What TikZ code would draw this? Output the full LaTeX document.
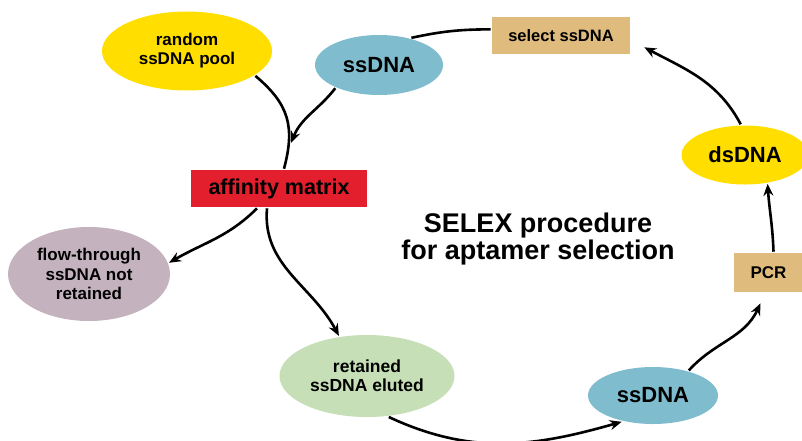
\documentclass[tikz,border=0pt]{standalone}
\usepackage{fontspec}
\setmainfont{Liberation Sans}
\usepackage{tikz}
\usetikzlibrary{shapes,arrows.meta}
\definecolor{poolyellow}{HTML}{FFDE00}
\definecolor{dnablue}{HTML}{7FBDCE}
\definecolor{boxtan}{HTML}{DFBC7E}
\definecolor{matrixred}{HTML}{E31E2D}
\definecolor{flowmauve}{HTML}{C4B2BF}
\definecolor{elutegreen}{HTML}{C6DFB7}
\tikzset{ell/.style={ellipse,inner sep=0pt,align=center,font=\bfseries\fontsize{17}{19}\selectfont}}
\tikzset{box/.style={rectangle,inner sep=0pt,align=center,font=\bfseries\fontsize{17}{19}\selectfont}}

\begin{document}
\begin{tikzpicture}[x=1pt,y=-1pt,>={Stealth[length=12pt,width=10pt,inset=4pt]},line width=2.6pt]
        \useasboundingbox (0,0) rectangle (802,440);

        \node[ell,fill=poolyellow,minimum width=170pt,minimum height=79pt] (pool) at (187,51) {random\\ssDNA pool};
        \node[ell,fill=dnablue,minimum width=128pt,minimum height=60pt,font=\bfseries\fontsize{22}{24}\selectfont] (topss) at (379,65) {ssDNA};
        \node[box,fill=boxtan,minimum width=138pt,minimum height=37pt,font=\bfseries\fontsize{16.5}{18}\selectfont] (select) at (561,35.5) {select ssDNA};
        \node[ell,fill=poolyellow,minimum width=127pt,minimum height=59pt,font=\bfseries\fontsize{22}{24}\selectfont] (ds) at (745,155) {dsDNA};
        \node[box,fill=boxtan,minimum width=69pt,minimum height=39pt] (pcr) at (768.5,272.5) {PCR};
        \node[box,fill=matrixred,minimum width=176pt,minimum height=37pt,font=\bfseries\fontsize{21.5}{23}\selectfont] (matrix) at (279,188.5) {affinity matrix};
        \node[ell,fill=flowmauve,minimum width=162pt,minimum height=94pt,font=\bfseries\fontsize{17}{19.5}\selectfont] (flow) at (89,274) {flow-through\\ssDNA not\\retained};
        \node[ell,fill=elutegreen,minimum width=175pt,minimum height=82pt,font=\bfseries\fontsize{17.5}{19}\selectfont] (elute) at (367,376) {retained\\ssDNA eluted};
        \node[ell,fill=dnablue,minimum width=130pt,minimum height=57pt,font=\bfseries\fontsize{22}{24}\selectfont] (botss) at (653,395.5) {ssDNA};
        \node[align=center,font=\bfseries\fontsize{27}{27.5}\selectfont] (title) at (538,239) {SELEX procedure\\for aptamer selection};
        \coordinate (merge) at (291,143);

        \draw [] (pool.-20) to [out=-40,in=75,looseness=1.15] ([xshift=5pt]matrix.north);
        \draw [->] (topss.-152) to [out=-128,in=68] (merge);
        \draw [] (topss.40) to [bend left=6] (select.175);
        \draw [->] (ds.98) to [out=118,in=-28] ([xshift=13pt,yshift=8pt]select.south east);
        \draw [->] ([xshift=5pt]pcr.north) to [out=92,in=-86] (ds.-52);
        \draw [->] (botss.35) to [out=48,in=-115] ([xshift=-8pt,yshift=-10pt]pcr.south);
        \draw [->] (elute.-62) to [out=-25,in=196] (botss.-140);
        \draw [->] ([xshift=-22pt]matrix.south) to [out=225,in=30] (flow.8);
        \draw [->] ([xshift=-12pt]matrix.south) to [out=265,in=118] (elute.125);
    \end{tikzpicture}
\end{document}
